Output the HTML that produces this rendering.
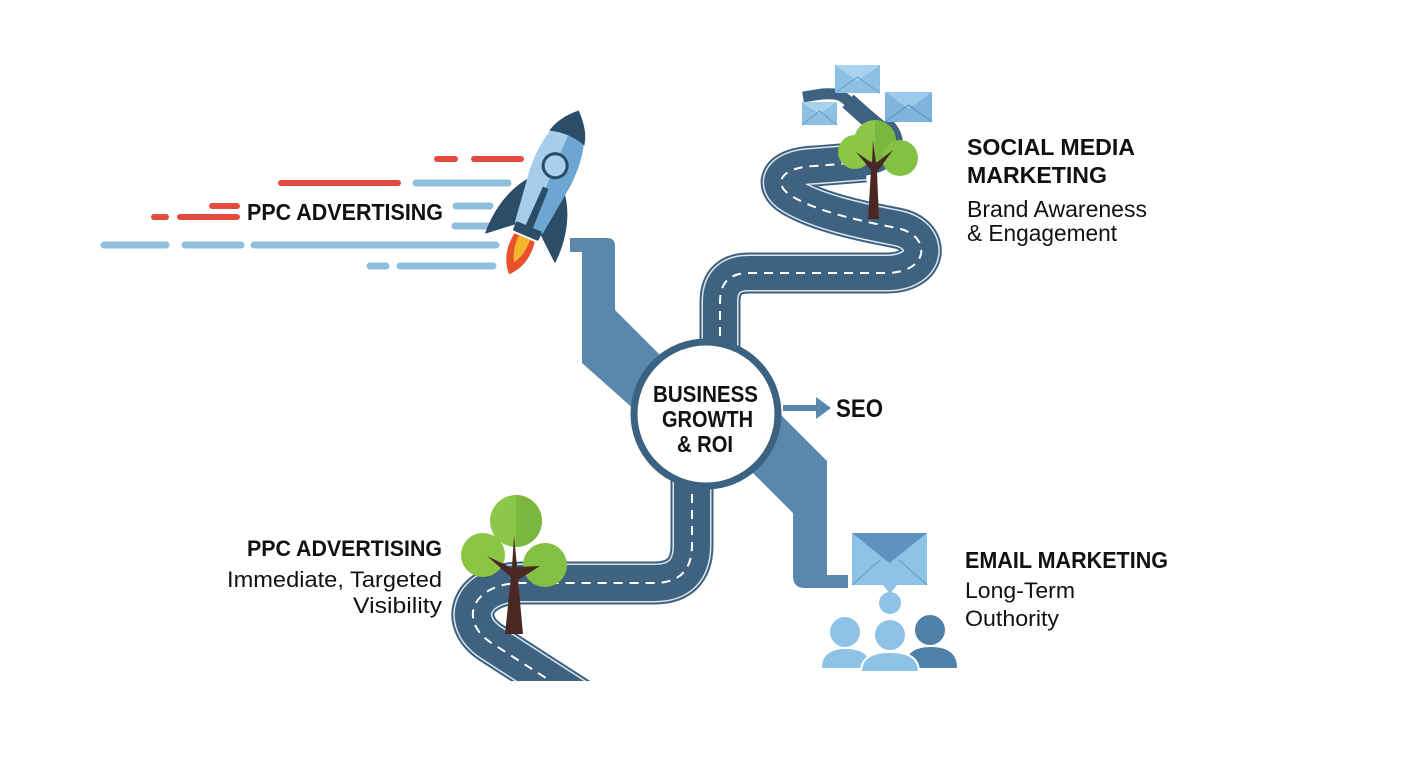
<!DOCTYPE html>
<html><head><meta charset="utf-8"><style>
html,body{margin:0;padding:0;background:#fff;}
svg{display:block;}
text{font-family:"Liberation Sans",Arial,sans-serif;fill:#111;}
.b{font-weight:bold;}
</style></head><body>
<svg width="1408" height="768" viewBox="0 0 1408 768" xmlns="http://www.w3.org/2000/svg">
<defs>
<clipPath id="cl"><rect x="0" y="0" width="1408" height="681"/></clipPath>
<path id="r1" d="M720,352 L720,302 Q720,273 749,273 L886,273 C930,273 932,235 897,228 C860,221 820,212 795,198 C770,185 780,167 815,166 L865,162" fill="none"/>
<path id="r2" d="M692,478 L692,545 Q692,583 654,583 L522,583 C472,583 458,620 490,642 L580,700" fill="none"/>
</defs>
<rect width="1408" height="768" fill="#fff"/>

<!-- speed lines -->
<g stroke-linecap="round">
<g stroke="#e24b3d" stroke-width="6">
<line x1="437" y1="159" x2="455" y2="159"/>
<line x1="474" y1="159" x2="521" y2="159"/>
<line x1="281" y1="183" x2="398" y2="183"/>
<line x1="154" y1="217" x2="166" y2="217"/>
<line x1="180" y1="217" x2="237" y2="217"/>
<line x1="212" y1="206" x2="237" y2="206"/>
</g>
<g stroke="#8ebfdf" stroke-width="7">
<line x1="416" y1="183" x2="508" y2="183"/>
<line x1="456" y1="206" x2="490" y2="206"/>
<line x1="455" y1="226" x2="488" y2="226"/>
<line x1="104" y1="245" x2="166" y2="245"/>
<line x1="185" y1="245" x2="241" y2="245"/>
<line x1="254" y1="245" x2="496" y2="245"/>
<line x1="370" y1="266" x2="386" y2="266"/>
<line x1="400" y1="266" x2="493" y2="266"/>
</g></g>
<text class="b" x="247" y="220" font-size="23" textLength="196" lengthAdjust="spacingAndGlyphs">PPC ADVERTISING</text>

<!-- rocket -->
<g transform="translate(527,232) rotate(23)">
<path d="M-11,6 Q-15,30 0,46 Q15,30 11,6 Z" fill="#e8502e"/>
<path d="M-6,6 Q-7,22 0,33 Q7,22 6,6 Z" fill="#f7b52d"/>
<path d="M-18,-52 C-32,-36 -40,-10 -38,18 L-12,-4 Z" fill="#2c4d68"/>
<path d="M18,-52 C32,-36 40,-10 38,18 L12,-4 Z" fill="#2c4d68"/>
<path d="M0,-132 C16,-118 24,-95 22,-60 L15,-4 L-15,-4 L-22,-60 C-24,-95 -16,-118 0,-132 Z" fill="#a6cdea"/>
<path d="M0,-132 C16,-118 24,-95 22,-60 L15,-4 L0,-4 Z" fill="#6ea6d2"/>
<path d="M0,-132 C11,-122 17,-112 19,-102 Q0,-108 -19,-102 C-17,-112 -11,-122 0,-132 Z" fill="#2c4d68"/>
<path d="M-3,-48 L3,-48 L4,-2 L-4,-2 Z" fill="#2c4d68"/>
<rect x="-14" y="-6" width="28" height="10" rx="2" fill="#2c4d68"/>
<circle cx="0" cy="-72" r="12" fill="#a9d0ec" stroke="#2b4c66" stroke-width="3"/>
</g>

<!-- diagonal band -->
<g fill="#5a87ac">
<path d="M570,238 L607,238 Q615,238 615,246 L615,310 L720,415 L680,450 L582,363 L582,252 L570,252 Z"/>
<path d="M740,374 L827,461 L827,575 L848,575 L848,588 L805,588 Q793,588 793,576 L793,513 L700,420 Z"/>
</g>

<!-- roads -->
<g fill="none" stroke-linejoin="round">
<use href="#r1" stroke="#3d617e" stroke-width="41"/>
<use href="#r1" stroke="#d9e6ef" stroke-width="37"/>
<use href="#r1" stroke="#3e627f" stroke-width="34"/>
<use href="#r1" stroke="#ffffff" stroke-width="2" stroke-dasharray="9 7"/>
<path d="M862,162 C892,158 895,140 880,128" stroke="#3e627f" stroke-width="28"/>
<path d="M882,130 C866,118 856,108 848,101" stroke="#3e627f" stroke-width="17"/>
<path d="M850,103 C842,94 835,93 822,94 L803,97" stroke="#3e627f" stroke-width="11"/>
<g clip-path="url(#cl)">
<use href="#r2" stroke="#3d617e" stroke-width="43"/>
<use href="#r2" stroke="#d9e6ef" stroke-width="39"/>
<use href="#r2" stroke="#3e627f" stroke-width="36"/>
<use href="#r2" stroke="#ffffff" stroke-width="2" stroke-dasharray="9 7"/>
</g>
</g>

<!-- top envelopes -->
<g>
<rect x="835" y="65" width="45" height="28" fill="#8ec0e3"/>
<polygon points="835,65 880,65 857.5,81" fill="#a9d2ef"/>
<polyline points="835,93 857.5,77 880,93" fill="none" stroke="#6da3cc" stroke-width="1.2"/>
<rect x="802" y="102" width="35" height="23" fill="#8ec0e3"/>
<polygon points="802,102 837,102 819.5,114" fill="#a9d2ef"/>
<polyline points="802,125 819.5,111 837,125" fill="none" stroke="#6da3cc" stroke-width="1.2"/>
<rect x="885" y="92" width="47" height="30" fill="#7fb4dc"/>
<polygon points="885,92 932,92 908.5,109" fill="#9dcaea"/>
<polyline points="885,122 908.5,105 932,122" fill="none" stroke="#5f97c2" stroke-width="1.2"/>
</g>

<!-- upper tree -->
<g>
<circle cx="875" cy="141" r="21" fill="#8dc74a"/>
<path d="M875,120 A21,21 0 0 1 875,162 Z" fill="#79b73e"/>
<circle cx="855" cy="152" r="17" fill="#8ac544"/>
<circle cx="900" cy="158" r="18" fill="#84c042"/>
<path d="M868,219 L871,170 L856,152 L872,163 L873,140 L876,163 L893,150 L877,172 L879,219 Z" fill="#4a2722"/>
</g>

<!-- lower tree -->
<g>
<circle cx="516" cy="521" r="26" fill="#8dc74a"/>
<path d="M516,495 A26,26 0 0 1 516,547 Z" fill="#79b73e"/>
<circle cx="483" cy="555" r="22" fill="#8ac544"/>
<circle cx="545" cy="565" r="22" fill="#84c042"/>
<path d="M505,634 L511,577 L487,556 L512,568 L514,535 L517,567 L540,566 L518,580 L523,634 Z" fill="#4a2722"/>
</g>

<!-- central circle -->
<circle cx="706" cy="414" r="72" fill="#fff" stroke="#3b6280" stroke-width="7"/>
<text class="b" x="705.5" y="402" font-size="23" text-anchor="middle" textLength="105" lengthAdjust="spacingAndGlyphs">BUSINESS</text>
<text class="b" x="707.5" y="427" font-size="23" text-anchor="middle" textLength="91" lengthAdjust="spacingAndGlyphs">GROWTH</text>
<text class="b" x="705" y="452" font-size="23" text-anchor="middle" textLength="56" lengthAdjust="spacingAndGlyphs">&amp; ROI</text>

<!-- SEO arrow -->
<line x1="783" y1="408" x2="818" y2="408" stroke="#5a87ac" stroke-width="6"/>
<polygon points="816,397 831,408 816,419" fill="#5a87ac"/>
<text class="b" x="836" y="417" font-size="25" textLength="47" lengthAdjust="spacingAndGlyphs">SEO</text>

<!-- email + people -->
<g>
<rect x="852" y="533" width="75" height="52" fill="#8ec2e6"/>
<polygon points="852,533 927,533 889.5,563" fill="#5e93bf"/>
<polyline points="852,585 880,560" fill="none" stroke="#6ea3cc" stroke-width="1.2"/>
<polyline points="927,585 899,560" fill="none" stroke="#6ea3cc" stroke-width="1.2"/>
<polygon points="883,585 897,585 890,594" fill="#8ec2e6"/>
<circle cx="890" cy="603" r="11" fill="#8ec2e6"/>
<circle cx="930" cy="630" r="15" fill="#4f80a7"/>
<path d="M905,668 Q905,647 931,647 Q957,647 957,668 Z" fill="#4f80a7"/>
<circle cx="845" cy="632" r="15" fill="#8ec2e6"/>
<path d="M822,668 Q822,649 846,649 Q870,649 870,668 Z" fill="#8ec2e6"/>
<circle cx="890" cy="635" r="16" fill="#8ec2e6" stroke="#fff" stroke-width="2"/>
<path d="M861,672 Q861,652 890,652 Q919,652 919,672 Z" fill="#8ec2e6" stroke="#fff" stroke-width="2"/>
</g>

<!-- labels -->
<text class="b" x="967" y="155" font-size="23" textLength="168" lengthAdjust="spacingAndGlyphs">SOCIAL MEDIA</text>
<text class="b" x="967" y="183" font-size="23" textLength="140" lengthAdjust="spacingAndGlyphs">MARKETING</text>
<text x="967" y="217" font-size="23" textLength="180" lengthAdjust="spacingAndGlyphs">Brand Awareness</text>
<text x="967" y="241" font-size="23" textLength="150" lengthAdjust="spacingAndGlyphs">&amp; Engagement</text>

<text class="b" x="442" y="556" font-size="22" text-anchor="end" textLength="195" lengthAdjust="spacingAndGlyphs">PPC ADVERTISING</text>
<text x="442" y="587" font-size="22" text-anchor="end" textLength="215" lengthAdjust="spacingAndGlyphs">Immediate, Targeted</text>
<text x="442" y="613" font-size="22" text-anchor="end" textLength="89" lengthAdjust="spacingAndGlyphs">Visibility</text>

<text class="b" x="965" y="568" font-size="23" textLength="203" lengthAdjust="spacingAndGlyphs">EMAIL MARKETING</text>
<text x="965" y="598" font-size="22" textLength="110" lengthAdjust="spacingAndGlyphs">Long-Term</text>
<text x="965" y="626" font-size="22" textLength="94" lengthAdjust="spacingAndGlyphs">Outhority</text>
</svg>
</body></html>
